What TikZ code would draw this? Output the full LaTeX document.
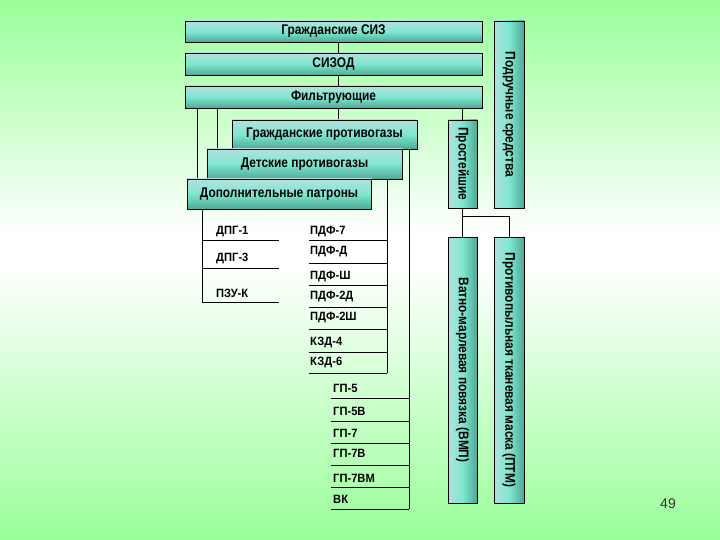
\documentclass[tikz,border=0pt]{standalone}
\usepackage{fontspec}
\setmainfont{Liberation Sans}
\newfontfamily\bx{Liberation Sans}[FakeStretch=0.85]
\newfontfamily\lx{Liberation Sans}[FakeStretch=0.93]
\definecolor{bgG}{RGB}{153,255,153}
\definecolor{hTop}{RGB}{178,224,222}
\definecolor{hMid}{RGB}{126,232,207}
\definecolor{hBot}{RGB}{78,168,150}
\tikzset{
  box/.style={draw=black, line width=0.8pt, inner sep=0pt, outer sep=0pt,
    font=\bx\bfseries\fontsize{14}{16}\selectfont, text=black},
  hbox/.style={box, top color=hTop, bottom color=hBot, middle color=hMid},
  vbox/.style={box, left color=hTop, right color=hBot, middle color=hMid},
  lbl/.style={anchor=west, inner sep=0pt, font=\lx\bfseries\fontsize{12}{14}\selectfont},
  conn/.style={line width=0.8pt, black}
}
\begin{document}
\begin{tikzpicture}[x=1pt,y=-1pt]
\useasboundingbox (0,0) rectangle (720,540);
% background
\shade[top color=bgG, bottom color=white] (0,0) rectangle (720,236);
\fill[white] (0,235.5) rectangle (720,264.5);
\shade[top color=white, bottom color=bgG] (0,264) rectangle (720,540);

% bus coordinates
\coordinate (xm) at (338,0);
\coordinate (x1) at (197,0);
\coordinate (x2) at (217,0);
\coordinate (xL) at (202,0);
\coordinate (xC) at (387,0);
\coordinate (xR) at (409,0);
\coordinate (xP) at (462.5,0);
\coordinate (xT) at (509,0);
\coordinate (yT) at (0,216);
\coordinate (eL) at (202,302);
\coordinate (eC) at (387,373);
\coordinate (eR) at (409,509);

% nodes (boxes)
\node[hbox, minimum width=297, minimum height=21] (siz) at (333.5,31.5) {Гражданские СИЗ};
\node[hbox, minimum width=297, minimum height=22] (sizod) at (333.5,64) {СИЗОД};
\node[hbox, minimum width=297, minimum height=22] (filt) at (333.5,97) {Фильтрующие};
\node[vbox, minimum width=30, minimum height=187] (podr) at (509,114.5) {\rotatebox{-90}{Подручные средства}};
\node[vbox, minimum width=29, minimum height=88] (prost) at (462.5,164) {\rotatebox{-90}{Простейшие}};
\node[vbox, minimum width=29, minimum height=266] (vmp) at (462.5,370) {\rotatebox{-90}{Ватно-марлевая повязка (ВМП)}};
\node[vbox, minimum width=30, minimum height=266] (ptm) at (509,370) {\rotatebox{-90}{Противопыльная тканевая маска (ПТМ)}};

% connectors
\draw[conn] (siz.south -| xm) -- (sizod.north -| xm);
\draw[conn] (sizod.south -| xm) -- (filt.north -| xm);
\draw[conn] (filt.south -| xm) -- (xm |- 0,120);
\draw[conn] (filt.south -| x1) -- (x1 |- 0,179);
\draw[conn] (filt.south -| x2) -- (x2 |- 0,149);
\draw[conn] (filt.south -| xP) -- (prost.north);
\draw[conn] (prost.south) -- (vmp.north);
\draw[conn] (prost.south |- yT) -- (xT |- yT) -- (ptm.north);

\node[hbox, minimum width=185, minimum height=29] (gp) at (324.5,134.5) {Гражданские противогазы};
\node[hbox, minimum width=195, minimum height=30] (det) at (304.5,164) {Детские противогазы};
\node[hbox, minimum width=184, minimum height=30] (dop) at (279,194) {Дополнительные патроны};

% branch buses
\draw[conn] (dop.south -| xL) -- (eL);
\draw[conn] (det.south -| xC) -- (eC);
\draw[conn] (gp.south -| xR) -- (eR);

% left group
\node[lbl] (dpg1) at (216,232) {ДПГ-1};
\node[lbl] (dpg3) at (216,259) {ДПГ-3};
\node[lbl] (pzu) at (216,293) {ПЗУ-К};
\foreach \y in {240,268,302} \draw[conn] (xL |- 0,\y) -- (279,\y);

% middle group
\node[lbl] (pdf7) at (310,232) {ПДФ-7};
\node[lbl] (pdfd) at (310,252) {ПДФ-Д};
\node[lbl] (pdfsh) at (310,277) {ПДФ-Ш};
\node[lbl] (pdf2d) at (310,297) {ПДФ-2Д};
\node[lbl] (pdf2sh) at (310,318) {ПДФ-2Ш};
\node[lbl] (kzd4) at (310,343) {КЗД-4};
\node[lbl] (kzd6) at (310,363) {КЗД-6};
\foreach \y in {240,263,285,307,329,352,373} \draw[conn] (309,\y) -- (xC |- 0,\y);

% right group
\node[lbl] (gp5) at (333,388) {ГП-5};
\node[lbl] (gp5v) at (333,411) {ГП-5В};
\node[lbl] (gp7) at (333,433) {ГП-7};
\node[lbl] (gp7v) at (333,453) {ГП-7В};
\node[lbl] (gp7vm) at (333,478) {ГП-7ВМ};
\node[lbl] (vk) at (333,499) {ВК};
\foreach \y in {398,421,443,465,487,509} \draw[conn] (331,\y) -- (xR |- 0,\y);

% page number
\node[font=\fontsize{14}{16}\selectfont, text=black!80] (pg) at (668,504) {49};
\end{tikzpicture}
\end{document}
